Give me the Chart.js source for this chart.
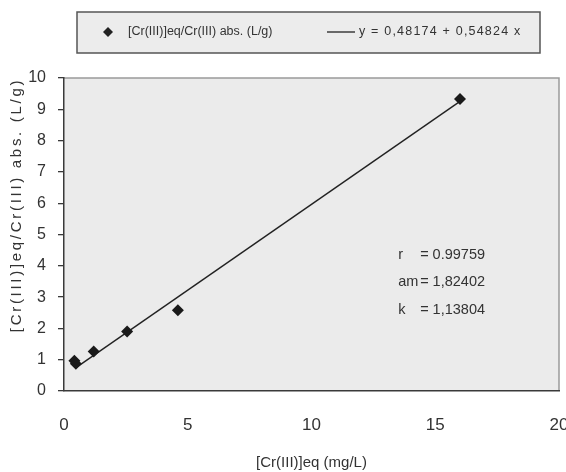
<!DOCTYPE html>
<html>
<head>
<meta charset="utf-8">
<script src="https://cdn.jsdelivr.net/npm/chart.js@4/dist/chart.umd.min.js"></script>
<style>
  html, body { margin: 0; padding: 0; background: #fff; }
  #wrap { width: 566px; height: 472px; }
</style>
</head>
<body>
<div id="wrap"><canvas id="isoChart"></canvas></div>
<script>
let ceqValues = [0.42, 0.48, 1.2, 2.55, 4.6, 16.0];
let ratioValues = [0.97, 0.87, 1.26, 1.9, 2.58, 9.33];

// linear fit y = a + b x
let fitA = 0.48174;
let fitB = 0.54824;
let fitRange = [0.5, 16.0];

let xTicks = [0, 5, 10, 15, 20];
let yTicks = [0, 1, 2, 3, 4, 5, 6, 7, 8, 9, 10];

let pointLabel = "[Cr(III)]eq/Cr(III) abs. (L/g)";
let lineLabel = "y = 0,48174 + 0,54824 x";
let xTitle = "[Cr(III)]eq (mg/L)";
let yTitle = "[Cr(III)]eq/Cr(III) abs. (L/g)";

let statNames = ["r", "am", "k"];
let statValues = ["= 0.99759", "= 1,82402", "= 1,13804"];

const FONT = "'Liberation Sans Narrow', 'Liberation Sans', Arial, sans-serif";
const AXIS_COLOR = "#3a3a3a";

let scatterData = ceqValues.map((x, i) => ({x: x, y: ratioValues[i]}));
let fitData = fitRange.map(x => ({x: x, y: fitA + fitB * x}));

function drawDiamond(ctx, x, y, r) {
    ctx.beginPath();
    ctx.moveTo(x, y - r);
    ctx.lineTo(x + r, y);
    ctx.lineTo(x, y + r);
    ctx.lineTo(x - r, y);
    ctx.closePath();
    ctx.fill();
}

const backdrop = {
    id: "backdrop",
    beforeDraw(chart) {
        let ctx = chart.ctx, a = chart.chartArea;
        ctx.save();
        ctx.fillStyle = "#ebebeb";
        ctx.fillRect(a.left, a.top, a.right - a.left, a.bottom - a.top);
        ctx.strokeStyle = "#9a9a9a";
        ctx.lineWidth = 1.5;
        ctx.beginPath();
        ctx.moveTo(a.left, a.top);
        ctx.lineTo(a.right, a.top);
        ctx.lineTo(a.right, a.bottom);
        ctx.stroke();
        ctx.restore();
    }
};

const extras = {
    id: "extras",
    afterDraw(chart) {
        let ctx = chart.ctx;
        let xs = chart.scales.x, ys = chart.scales.y;
        ctx.save();

        // legend box
        ctx.fillStyle = "#ececec";
        ctx.fillRect(77, 12, 463, 41);
        ctx.strokeStyle = "#555";
        ctx.lineWidth = 1.5;
        ctx.strokeRect(77, 12, 463, 41);
        ctx.fillStyle = "#222";
        drawDiamond(ctx, 108, 32, 5);
        ctx.font = "12.5px " + FONT;
        ctx.textBaseline = "middle";
        ctx.fillStyle = "#333";
        ctx.fillText(pointLabel, 128, 32);
        ctx.strokeStyle = "#222";
        ctx.lineWidth = 1.3;
        ctx.beginPath();
        ctx.moveTo(327, 32);
        ctx.lineTo(355, 32);
        ctx.stroke();
        ctx.letterSpacing = "1.2px";
        ctx.fillText(lineLabel, 359, 32);
        ctx.letterSpacing = "0px";

        // fit statistics
        ctx.font = "14.5px " + FONT;
        let sx = xs.getPixelForValue(13.5);
        let sy = ys.getPixelForValue(4.35);
        statNames.forEach((n, i) => {
            ctx.fillText(n, sx, sy + i * 27.5);
            ctx.fillText(statValues[i], sx + 22, sy + i * 27.5);
        });

        // y axis title, letter spaced
        ctx.translate(17, 205);
        ctx.rotate(-Math.PI / 2);
        ctx.font = "15px " + FONT;
        ctx.letterSpacing = "2.7px";
        ctx.textAlign = "center";
        ctx.fillText(yTitle, 0, 0);
        ctx.restore();
    }
};

new Chart(document.getElementById("isoChart"), {
    type: "scatter",
    data: {
        datasets: [{
            label: pointLabel,
            data: scatterData,
            pointStyle: "rectRot",
            pointRadius: 6,
            pointHoverRadius: 6,
            backgroundColor: "#1a1a1a",
            borderColor: "#1a1a1a",
            borderWidth: 0
        }, {
            label: lineLabel,
            type: "line",
            data: fitData,
            showLine: true,
            pointRadius: 0,
            borderColor: "#222",
            borderWidth: 1.4,
            fill: false
        }]
    },
    options: {
        responsive: true,
        maintainAspectRatio: false,
        animation: false,
        events: [],
        layout: { padding: { top: 78, right: 7, left: 0, bottom: 0 } },
        plugins: {
            legend: { display: false },
            tooltip: { enabled: false }
        },
        scales: {
            x: {
                type: "linear",
                min: 0,
                max: 20,
                afterBuildTicks: s => { s.ticks = xTicks.map(v => ({value: v})); },
                afterFit: s => { s.height = 81; s.paddingLeft = 0; s.paddingRight = 0; },
                grid: { display: false, drawTicks: false },
                border: { display: true, color: AXIS_COLOR, width: 1.5 },
                ticks: { padding: 24, color: "#333", font: { family: FONT, size: 17 } },
                title: { display: true, text: xTitle, color: "#333", font: { family: FONT, size: 15 }, padding: { top: 0, bottom: 0 } }
            },
            y: {
                type: "linear",
                min: 0,
                max: 10,
                afterBuildTicks: s => { s.ticks = yTicks.map(v => ({value: v})); },
                afterFit: s => { s.width = 64; s.paddingTop = 0; s.paddingBottom = 0; },
                grid: { drawOnChartArea: false, tickLength: 6, color: AXIS_COLOR, lineWidth: 1.3 },
                border: { display: true, color: AXIS_COLOR, width: 1.5 },
                ticks: { padding: 12, color: "#333", font: { family: FONT, size: 16 } }
            }
        }
    },
    plugins: [backdrop, extras]
});
</script>
</body>
</html>
